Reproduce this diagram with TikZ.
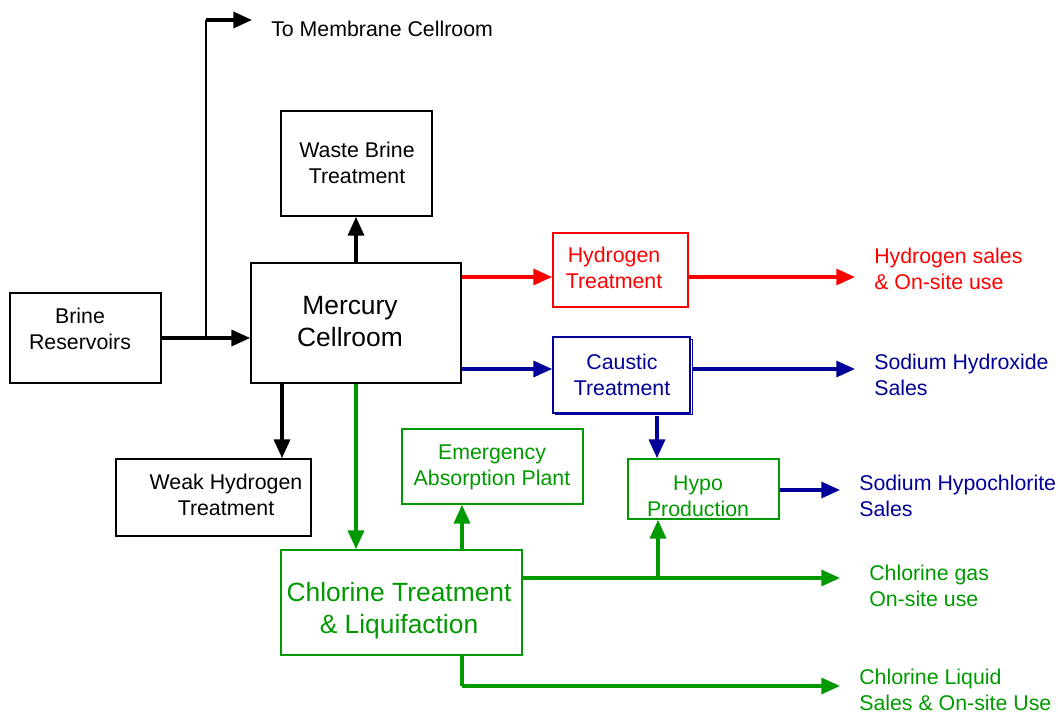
\documentclass[tikz,border=0pt]{standalone}
\usepackage{fontspec}
\setmainfont{Liberation Sans}
\usetikzlibrary{arrows.meta}
\definecolor{cred}{RGB}{255,0,0}
\definecolor{cblue}{RGB}{0,0,153}
\definecolor{cgreen}{RGB}{0,153,0}
\tikzset{
  box/.style={draw, line width=1.3pt, inner sep=0pt},
  txt/.style={inner sep=0pt, align=center, font=\fontsize{16}{19.5}\selectfont},
  bigtxt/.style={txt, font=\fontsize{19.8}{24}\selectfont},
  arr/.style={line width=2.4pt, -{Triangle[length=14pt,width=12pt]}},
  ln/.style={line width=2.4pt},
  lbl/.style={inner sep=0pt, anchor=west, align=left, font=\fontsize{16}{19.5}\selectfont},
}
\begin{document}
\begin{tikzpicture}[x=0.75pt,y=-0.75pt]
\useasboundingbox (0,0) rectangle (1058,713);
% boxes
\node[box, minimum width=113.25pt, minimum height=67.5pt] (brine) at (85.5,338) {};
\node[box, minimum width=157.5pt, minimum height=90pt] (merc) at (356,323) {};
\node[box, minimum width=113.25pt, minimum height=78.75pt] (wb) at (356.5,163.5) {};
\node[box, minimum width=146.25pt, minimum height=57.75pt] (weak) at (213.5,497.5) {};
\node[box, draw=cred, minimum width=101.25pt, minimum height=55.5pt] (h2) at (620.5,270) {};
\draw[cblue, line width=1.3pt] (555.5,339.5) rectangle (692.5,414.5);
\node[box, draw=cblue, fill=white, minimum width=102.75pt, minimum height=57pt] (caus) at (621.5,375) {};
\node[box, draw=cgreen, minimum width=135.75pt, minimum height=56.25pt] (emerg) at (492.5,466.5) {};
\node[box, draw=cgreen, minimum width=113.25pt, minimum height=45pt] (hypo) at (703.5,489) {};
\node[box, draw=cgreen, minimum width=180.75pt, minimum height=78.75pt] (chl) at (401.5,602.5) {};
% box texts
\node[txt] (brinet) at (80,329) {Brine\\Reservoirs};
\node[bigtxt] (merct) at (350,322) {Mercury\\Cellroom};
\node[txt] (wbt) at (357,163) {Waste Brine\\Treatment};
\node[txt] (weakt) at (226,495) {Weak Hydrogen\\Treatment};
\node[txt, text=cred] (h2t) at (614,268) {Hydrogen\\Treatment};
\node[txt, text=cblue] (caust) at (622,375) {Caustic\\Treatment};
\node[txt, text=cgreen] (emergt) at (492,467) {Emergency\\Absorption Plant};
\node[txt, text=cgreen] (hypot) at (698,496) {Hypo\\Production};
\node[bigtxt, text=cgreen] (chlt) at (399,611) {Chlorine Treatment\\\& Liquifaction};
% labels
\node[lbl] (tomem) at (271,29) {To Membrane Cellroom};
\node[lbl, text=cred] (h2s) at (874,269) {Hydrogen sales\\\& On-site use};
\node[lbl, text=cblue] (naoh) at (874,375) {Sodium Hydroxide\\Sales};
\node[lbl, text=cblue] (naocl) at (859,496) {Sodium Hypochlorite\\Sales};
\node[lbl, text=cgreen] (clgas) at (869,586) {Chlorine gas\\On-site use};
\node[lbl, text=cgreen] (clliq) at (859,690) {Chlorine Liquid\\Sales \& On-site Use};
% coordinates
\coordinate (j1) at (206,338);
\coordinate (j2) at (206,20);
\coordinate (memend) at (252,20);
\coordinate (h2end) at (855,277);
\coordinate (naohend) at (855,369);
\coordinate (naoclend) at (840,490);
\coordinate (clgasend) at (840,578);
\coordinate (j3) at (658,578);
\coordinate (j4) at (462,686);
\coordinate (clliqend) at (840,686);
% black connectors
\draw[arr] (brine.east) -- (brine.east -| merc.west);
\draw[line width=1.6pt] (j1) -- (j2);
\draw[arr] (j2) -- (memend);
\draw[arr] (merc.north) -- (merc.north |- wb.south);
\draw[arr] (merc.south -| 282,0) -- (weak.north -| 282,0);
% red
\draw[arr, cred] (merc.east |- 0,277) -- (h2.west |- 0,277);
\draw[arr, cred] (h2.east |- 0,277) -- (h2end);
% blue
\draw[arr, cblue] (merc.east |- 0,369) -- (caus.west |- 0,369);
\draw[arr, cblue] (692.5,369) -- (naohend);
\draw[arr, cblue] (caus.south -| 657,0) ++(0,2.5) -- (hypo.north -| 657,0);
\draw[arr, cblue] (hypo.east |- 0,490) -- (naoclend);
% green
\draw[arr, cgreen] (merc.south) -- (merc.south |- chl.north);
\draw[arr, cgreen] (chl.north -| 462,0) -- (emerg.south -| 462,0);
\draw[arr, cgreen] (chl.east |- 0,578) -- (clgasend);
\draw[arr, cgreen] (j3) -- (hypo.south -| j3);
\draw[ln, cgreen] (chl.south -| j4) -- (j4);
\draw[arr, cgreen] (j4) -- (clliqend);
\end{tikzpicture}
\end{document}
